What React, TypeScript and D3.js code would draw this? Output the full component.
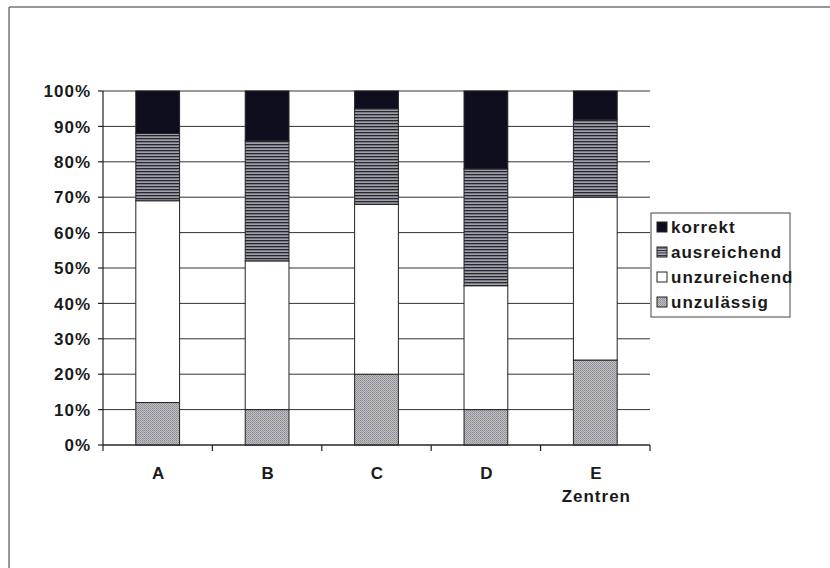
import React from "react";
import * as d3 from "d3";

const categories = ["A", "B", "C", "D", "E"];
const seriesNames = ["unzulässig", "unzureichend", "ausreichend", "korrekt"];
const unzulaessig = [12, 10, 20, 10, 24];
const unzureichend = [57, 42, 48, 35, 46];
const ausreichend = [19, 34, 27, 33, 22];
const korrekt = [12, 14, 5, 22, 8];
const yTicks = [0, 10, 20, 30, 40, 50, 60, 70, 80, 90, 100];
const legendOrder = ["korrekt", "ausreichend", "unzureichend", "unzulässig"];
const xTitle = "Zentren";

const W = 830, H = 568;
const L = 103, R = 650, T = 91, B = 445;

const fills: Record<string, string> = {
  korrekt: "#0e0e1e",
  ausreichend: "url(#hatch)",
  unzureichend: "#ffffff",
  "unzulässig": "url(#dots)",
};
const legendFills: Record<string, string> = {
  korrekt: "#0e0e1e",
  ausreichend: "url(#hatchS)",
  unzureichend: "#ffffff",
  "unzulässig": "url(#dots)",
};

export default function App() {
  const rows = categories.map((c, i) => ({
    cat: c,
    "unzulässig": unzulaessig[i],
    unzureichend: unzureichend[i],
    ausreichend: ausreichend[i],
    korrekt: korrekt[i],
  }));
  const stack = d3.stack<any>().keys(seriesNames)(rows);
  const x = d3.scaleBand().domain(categories).range([L, R]).paddingInner(0);
  const y = d3.scaleLinear().domain([0, 100]).range([B, T]);
  const bw = x.bandwidth() * 0.4;
  const font = "'Liberation Sans', Arial, sans-serif";
  const txt = { fontFamily: font, fontWeight: 700, fontSize: 17, letterSpacing: "1px", fill: "#1a1a1a" } as any;

  return (
    <svg width={W} height={H} style={{ position: "absolute", left: 0, top: 0, background: "#fff" }}>
      <defs>
        <pattern id="hatch" width="4" height="3" patternUnits="userSpaceOnUse">
          <rect width="4" height="3" fill="#a0a0a8" />
          <rect width="4" height="1.3" fill="#262630" />
        </pattern>
        <pattern id="hatchS" width="4" height="2.5" patternUnits="userSpaceOnUse">
          <rect width="4" height="2.5" fill="#b0b0b8" />
          <rect width="4" height="1" fill="#2a2a35" />
        </pattern>
        <pattern id="dots" width="2" height="2" patternUnits="userSpaceOnUse">
          <rect width="2" height="2" fill="#c0c0c4" />
          <rect width="1" height="1" fill="#8a8a90" />
          <rect x="1" y="1" width="1" height="1" fill="#9a9aa0" />
        </pattern>
      </defs>
      {/* outer frame */}
      <line x1={9} y1={7} x2={W} y2={7} stroke="#777" strokeWidth={1.5} />
      <line x1={9} y1={7} x2={9} y2={H} stroke="#777" strokeWidth={1.5} />

      {/* gridlines */}
      {yTicks.map((t) => (
        <line key={"g" + t} x1={L} x2={R} y1={y(t)} y2={y(t)} stroke="#333" strokeWidth={1} />
      ))}

      {/* bars */}
      {stack.map((s) => (
        <g key={s.key}>
          {s.map((d, i) => (
            <rect
              key={i}
              x={(x(categories[i]) as number) + (x.bandwidth() - bw) / 2}
              y={y(d[1])}
              width={bw}
              height={y(d[0]) - y(d[1])}
              fill={fills[s.key]}
              stroke="#222"
              strokeWidth={1}
            />
          ))}
        </g>
      ))}

      {/* axes */}
      <line x1={L} x2={L} y1={T} y2={B} stroke="#222" strokeWidth={1.2} />
      <line x1={L} x2={R} y1={B} y2={B} stroke="#222" strokeWidth={1.2} />
      {yTicks.map((t) => (
        <line key={"yt" + t} x1={L - 5} x2={L} y1={y(t)} y2={y(t)} stroke="#222" strokeWidth={1.2} />
      ))}
      {categories.map((c) => (
        <line key={"xt" + c} x1={(x(c) as number)} x2={(x(c) as number)} y1={B} y2={B + 6} stroke="#222" strokeWidth={1.2} />
      ))}
      <line x1={R} x2={R} y1={B} y2={B + 6} stroke="#222" strokeWidth={1.2} />

      {yTicks.map((t) => (
        <text key={"yl" + t} x={91} y={y(t)} dy="0.36em" textAnchor="end" {...txt}>
          {t + "%"}
        </text>
      ))}
      {categories.map((c) => (
        <text key={"xl" + c} x={(x(c) as number) + x.bandwidth() / 2 + 1} y={479} textAnchor="middle" {...txt}>
          {c}
        </text>
      ))}
      <text x={(x("E") as number) + x.bandwidth() / 2 + 1} y={502} textAnchor="middle" {...txt}>
        {xTitle}
      </text>

      {/* legend */}
      <rect x={651} y={213} width={139} height={104} fill="#fff" stroke="#444" strokeWidth={1} />
      {legendOrder.map((k, i) => {
        const cy = 227 + i * 25;
        return (
          <g key={k}>
            <rect x={657} y={cy - 5} width={10} height={10} fill={legendFills[k]} stroke="#222" strokeWidth={1} />
            <text x={671} y={cy} dy="0.36em" {...txt}>
              {k}
            </text>
          </g>
        );
      })}
    </svg>
  );
}
